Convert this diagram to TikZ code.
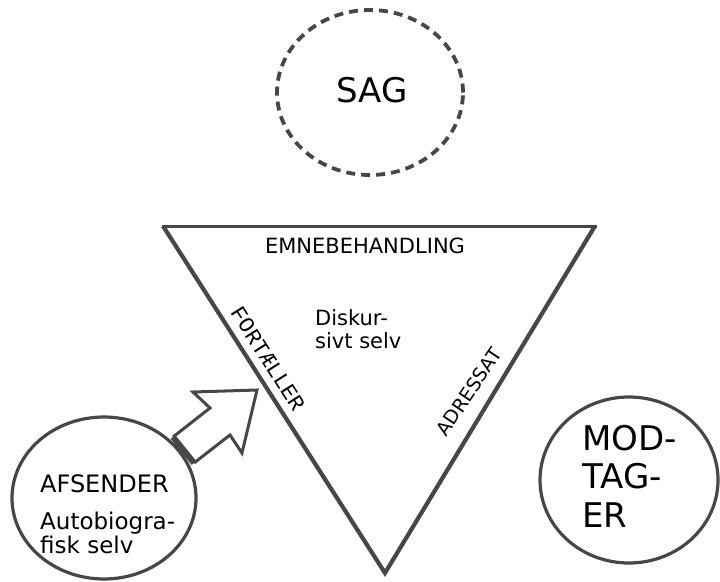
\documentclass[tikz,border=0pt]{standalone}
\usepackage{fontspec}
\setmainfont{DejaVu Sans}
\newfontfamily\monof{Liberation Mono}
\usetikzlibrary{shapes.geometric}
\definecolor{ink}{HTML}{474747}
\tikzset{
  ring/.style={draw=ink, ellipse, line width=3.2pt, inner sep=0pt},
  dashring/.style={ring, line width=3.8pt, dash pattern=on 9pt off 6pt},
  tri/.style={draw=ink, line width=4.2pt, line join=miter},
  lbl/.style={inner sep=0pt, text=black},
  blockarrow/.style={draw=ink, line width=3pt, line join=miter, fill=white}
}
\begin{document}
\begin{tikzpicture}[x=1pt,y=-1pt]
\useasboundingbox (0,0) rectangle (720,581);
% circles
\node[dashring, minimum width=186pt, minimum height=165pt] (sag) at (370,92.5) {};
\node[ring, minimum width=184pt, minimum height=162pt] (afs) at (104,498) {};
\node[ring, minimum width=178pt, minimum height=166pt] (mod) at (629,480) {};
% triangle
\coordinate (tl) at (163,226);
\coordinate (tr) at (595,226);
\coordinate (bt) at (385,573);
\draw[tri] (tl) -- (bt) -- (tr);
\draw[draw=ink, line width=3pt] ([xshift=-1pt]tl) -- ([xshift=2pt]tr);
% block arrow
\coordinate (a1) at (173,437);
\coordinate (a2) at (210,408);
\coordinate (a3) at (193,392);
\coordinate (a4) at (257,390);
\coordinate (a5) at (242,453);
\coordinate (a6) at (230,435);
\coordinate (a7) at (194,463);
\draw[blockarrow] (a1) -- (a2) -- (a3) -- (a4) -- (a5) -- (a6) -- (a7);
\draw[draw=ink, line width=6pt] (a1) -- (a7);
% texts
\node[lbl, anchor=base, font=\fontsize{34}{38}\selectfont] (sagt) at (372,102) {SAG};
\node[lbl, anchor=base, font=\fontsize{21}{24}\selectfont] (emne) at (365,253) {EMNEBEHANDLING};
\node[lbl, anchor=base west, align=left, font=\fontsize{21}{23}\selectfont] (disk) at (315,348) {Diskur-\\sivt selv};
\node[lbl, rotate=-57.5, font=\monof\fontsize{22}{24}\selectfont] (fort) at (268,359) {FORTÆLLER};
\node[lbl, rotate=56, font=\fontsize{19}{22}\selectfont] (adr) at (469,392) {ADRESSAT};
\node[lbl, anchor=base west, font=\fontsize{24}{26}\selectfont] (afst) at (40,492) {AFSENDER};
\node[lbl, anchor=base west, align=left, font=\fontsize{23}{19}\selectfont] (auto) at (40,553) {Autobiogra-\\fisk selv};
\node[lbl, anchor=base west, align=left, font=\fontsize{34}{38.5}\selectfont] (modt) at (582,527) {MOD-\\TAG-\\ER};
\end{tikzpicture}
\end{document}
